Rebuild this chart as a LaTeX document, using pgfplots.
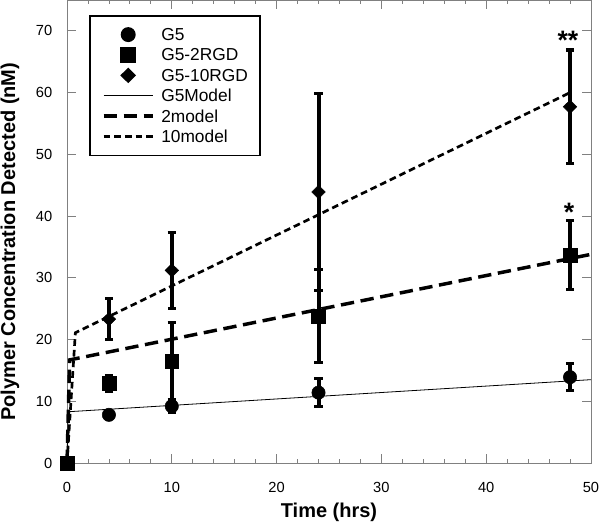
\documentclass[border=0pt]{standalone}
\usepackage{pgfplots}
\pgfplotsset{compat=1.18}
\usepackage{fontspec}
\setmainfont{Liberation Sans}
\definecolor{axgray}{RGB}{128,128,128}
\pgfplotsset{
  mylegline/.style={legend image code/.code={\draw[##1] (0pt,0pt) -- (37pt,0pt);}},
  mylegmark/.style={legend image code/.code={\path[draw=none,fill=none] (0pt,-0.1pt) rectangle (37pt,0.1pt); \draw[##1] plot coordinates {(18.5pt,0pt)};}},
}
\begin{document}
\begin{tikzpicture}
\begin{axis}[
  scale only axis, width=393pt, height=347.25pt,
  xmin=0, xmax=50, ymin=0, ymax=75,
  clip=false,
  xtick={0,10,...,50}, minor x tick num=4,
  ytick={0,10,...,70},
  tick align=inside,
  major tick length=6.75pt, minor tick length=3pt,
  axis line style={axgray, line width=0.6pt},
  every tick/.style={axgray, line width=0.6pt},
  tick label style={font=\fontsize{11}{13}\selectfont, black},
  /pgf/number format/assume math mode=true,
  xticklabel style={yshift=-11pt},
  yticklabel style={xshift=-7.5pt},
  xlabel={\bfseries Time (hrs)},
  ylabel={\bfseries Polymer Concentration Detected (nM)},
  xlabel style={font=\fontsize{15}{17}\selectfont, at={(axis description cs:0.5,-0.107)}, anchor=center},
  ylabel style={font=\fontsize{15}{17}\selectfont, at={(axis description cs:-0.0992,0.478)}, anchor=base, rotate=0},
  legend style={at={(rel axis cs:0.042,0.9676)}, anchor=north west,
    draw=black, line width=1.2pt, font=\fontsize{13}{16}\selectfont,
    inner xsep=9pt, inner ysep=8.6pt, row sep=4.3pt, column sep=5pt,
    nodes={inner sep=0pt, text height=10pt, text depth=1pt},
    cells={anchor=west}},
  legend cell align=left,
  error bars/error bar style={line width=3pt, black},
  error bars/error mark options={rotate=90, mark size=3.1pt, line width=2.4pt, black},
]
% G5
\addplot[only marks, mark=*, mark size=5pt, black, mylegmark,
  error bars/.cd, y dir=both, y explicit]
  table[x=x, y=y, y error=e] {
x y e
0 0 0
4 7.8 0.6
10 9.2 1.0
24 11.4 2.3
48 13.9 2.2
};
\addlegendentry{G5}
% G5-2RGD
\addplot[only marks, mark=square*, mark size=5.2pt, black, mylegmark,
  error bars/.cd, y dir=both, y explicit]
  table[x=x, y=y, y error=e] {
x y e
0 0 0
4 12.9 1.3
10 16.5 6.2
24 23.8 7.5
48 33.7 5.6
};
\addlegendentry{G5-2RGD}
% G5-10RGD
\addplot[only marks, mark=diamond*, mark size=5pt, mark options={xscale=1.35}, black, mylegmark,
  error bars/.cd, y dir=both, y explicit]
  table[x=x, y=y, y error=e] {
x y e
4 23.3 3.3
10 31.2 6.2
24 43.9 16.0
48 57.7 9.2
};
\addlegendentry{G5-10RGD}
% models
\addplot[black, line width=0.6pt, mylegline] coordinates {(0,0) (0.1,8.3) (50,13.5)};
\addlegendentry{G5Model}
\addplot[black, line width=2.6pt, dash pattern=on 10pt off 5pt, mylegline] coordinates {(0,0) (0.25,16.7) (50,33.8)};
\addlegendentry{2model}
\addplot[black, line width=2pt, dash pattern=on 5pt off 3pt, mylegline] coordinates {(0,0) (0.8,21.1) (48,60)};
\addlegendentry{10model}
\node[font=\fontsize{20}{20}\selectfont\bfseries, anchor=base] at (axis cs:47.8,67.0) {**};
\node[font=\fontsize{20}{20}\selectfont\bfseries, anchor=base] at (axis cs:47.9,39.1) {*};
\end{axis}
\pgfresetboundingbox
\path ([shift={(-50.25pt,-48pt)}]current axis.south west) rectangle ([shift={(6.75pt,0pt)}]current axis.north east);
\end{tikzpicture}
\end{document}
